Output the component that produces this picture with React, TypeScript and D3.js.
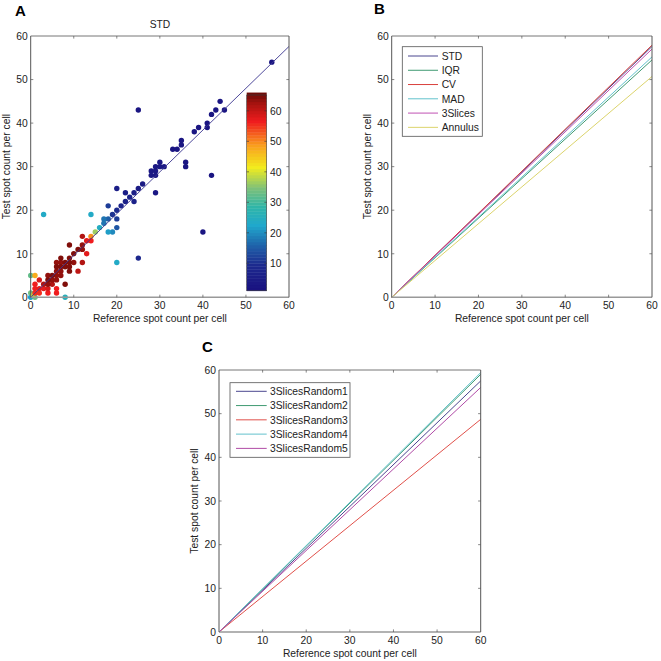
import * as d3 from "d3";
import { useRef, useEffect } from "react";

// Panel A: reference count, test count, colour value per cell
const refCounts = [
  56, 44, 43, 45, 42, 25, 41, 41, 39, 38, 35, 35, 33, 34, 36, 36, 30, 29, 30, 31, 28, 29, 28, 29, 42,
  26, 25, 20, 22, 24, 29, 23, 22, 24, 21, 18, 20, 19, 20, 17, 18, 17, 20, 18, 19, 40, 25, 20, 3, 14, 16, 15, 14,
  12, 13, 14, 12, 9, 11, 12, 10, 13, 7, 9, 6, 7, 8, 9, 10, 12,
  6, 7, 8, 9, 6, 7, 9, 11, 4, 5, 6, 7, 2, 4, 5, 6, 1, 3, 4, 5, 8, 1, 2, 3, 4, 6, 1, 2, 4, 6,
  0, 1, 0, 1, 0, 8, 0.5,
];
const testCounts = [
  54, 45, 43, 43, 42, 43, 40, 39, 39, 38, 36, 35, 34, 34, 31, 30, 31, 30, 30, 30, 29, 29, 28, 28, 28,
  26, 25, 25, 24, 24, 24, 23, 22, 22, 21, 21, 20, 19, 18, 18, 18, 17, 16, 15, 15, 15, 9, 8, 19, 19, 16, 15, 14,
  14, 13, 13, 12, 12, 11, 11, 10, 10, 9, 9, 8, 8, 8, 8, 8, 8,
  7, 7, 7, 7, 6, 6, 6, 6, 5, 5, 5, 5, 4, 4, 4, 4, 3, 3, 3, 3, 3, 2, 2, 2, 2, 2, 1, 1, 1, 1,
  5, 5, 1, 0, 0, 0, 0.5,
];
const cellValues = [
  2, 2, 2, 2, 2, 2, 2, 2, 2, 2, 2, 2, 2, 2, 2, 2, 3, 3, 3, 3, 3, 3, 3, 3, 2,
  4, 4, 5, 5, 5, 3, 6, 6, 6, 7, 11, 9, 10, 11, 17, 15, 17, 14, 21, 19, 2, 8, 23, 23, 23, 24, 36, 49,
  61, 57, 56, 63, 64, 64, 63, 64, 57, 64, 64, 63, 63, 64, 64, 63, 61,
  64, 64, 64, 64, 63, 63, 64, 60, 63, 64, 63, 63, 58, 64, 63, 63, 56, 61, 63, 61, 64, 56, 57, 57, 58, 56, 55, 55, 56, 56,
  32, 47, 33, 33, 21, 25, 38,
];

// Panel B and C: fitted line end values at x = 60
const methodNames = ["STD", "IQR", "CV", "MAD", "3Slices", "Annulus"];
const methodEnds = [57.6, 54.5, 57.9, 55.2, 57, 50.7];
const randomNames = ["3SlicesRandom1", "3SlicesRandom2", "3SlicesRandom3", "3SlicesRandom4", "3SlicesRandom5"];
const randomEnds = [57.5, 59, 48.7, 59.4, 56];
const lineColors = ["#4a468f", "#3f9a72", "#d9413c", "#62c2cc", "#c052b4", "#dcd46c"];
const randomColors = ["#4a468f", "#3f9a72", "#e0504a", "#62c2cc", "#b04aa6"];

const axisTicks = [0, 10, 20, 30, 40, 50, 60];
const colorTicks = [10, 20, 30, 40, 50, 60];
const colorStops = [1, 9, 15, 22, 28, 34, 41, 48, 56, 62, 65];
const colorHexes = ["#1a1280", "#1c2a8e", "#1f5fa8", "#20a8cc", "#2fb5a8", "#7cc07a", "#f2ec1e", "#f9a01c", "#f01c1e", "#a5130f", "#6e0c08"];

const FONT = "'Liberation Sans', Arial, sans-serif";

function drawFrame(g: any, x: any, y: any, xLabel: string, yLabel: string) {
  const [x0, x1] = x.range();
  const [y0, y1] = y.range();
  const tick = 2.6;

  g.append("line").attr("x1", x0).attr("x2", x1).attr("y1", y1).attr("y2", y1).attr("stroke", "#777");
  g.append("line").attr("x1", x0).attr("x2", x1).attr("y1", y0).attr("y2", y0).attr("stroke", "#999").attr("stroke-width", 1.4);
  g.append("line").attr("x1", x0).attr("x2", x0).attr("y1", y0).attr("y2", y1).attr("stroke", "#555");
  g.append("line").attr("x1", x1).attr("x2", x1).attr("y1", y0).attr("y2", y1).attr("stroke", "#555");

  axisTicks.forEach((t) => {
    if (t > 0 && t < 60) {
      g.append("line").attr("x1", x(t)).attr("x2", x(t)).attr("y1", y0).attr("y2", y0 - tick).attr("stroke", "#555").attr("stroke-width", 0.7);
      g.append("line").attr("x1", x(t)).attr("x2", x(t)).attr("y1", y1).attr("y2", y1 + tick).attr("stroke", "#555").attr("stroke-width", 0.7);
      g.append("line").attr("x1", x0).attr("x2", x0 + tick).attr("y1", y(t)).attr("y2", y(t)).attr("stroke", "#555").attr("stroke-width", 0.7);
      g.append("line").attr("x1", x1).attr("x2", x1 - tick).attr("y1", y(t)).attr("y2", y(t)).attr("stroke", "#555").attr("stroke-width", 0.7);
    }
    g.append("text").attr("x", x(t)).attr("y", y0 + 12).attr("text-anchor", "middle").text(t);
    g.append("text").attr("x", x0 - 3).attr("y", y(t) + 3.8).attr("text-anchor", "end").text(t);
  });

  g.append("text").attr("x", (x0 + x1) / 2).attr("y", y0 + 24.5).attr("text-anchor", "middle").text(xLabel);
  g.append("text")
    .attr("transform", `translate(${x0 - 21},${(y0 + y1) / 2}) rotate(-90)`)
    .attr("text-anchor", "middle")
    .text(yLabel);
}

function drawLegend(g: any, names: string[], colors: string[], box: { x: number; y: number; w: number; h: number }, lineX: number[], textX: number, firstY: number) {
  g.append("rect").attr("x", box.x).attr("y", box.y).attr("width", box.w).attr("height", box.h)
    .attr("fill", "#fff").attr("stroke", "#555").attr("stroke-width", 0.8);
  names.forEach((name, i) => {
    const ly = firstY + i * 14.27;
    g.append("line").attr("x1", lineX[0]).attr("x2", lineX[1]).attr("y1", ly).attr("y2", ly)
      .attr("stroke", colors[i]).attr("stroke-width", 1);
    g.append("text").attr("x", textX).attr("y", ly + 3.8).text(name);
  });
}

export default function App() {
  const svgRef = useRef<SVGSVGElement | null>(null);

  useEffect(() => {
    if (!svgRef.current) return;
    const svg = d3.select(svgRef.current);
    svg.selectAll("*").remove();
    svg.style("font", `10.3px ${FONT}`).style("fill", "#222");

    const colorScale = d3.scaleLinear<string>().domain(colorStops).range(colorHexes).clamp(true);

    // A
    const xA = d3.scaleLinear().domain([0, 60]).range([30.7, 289]);
    const yA = d3.scaleLinear().domain([0, 60]).range([297.3, 36]);
    const gA = svg.append("g");

    const dots = d3.range(refCounts.length).sort((a, b) => cellValues[a] - cellValues[b]);
    gA.append("g").selectAll("circle").data(dots).join("circle")
      .attr("cx", (i) => xA(refCounts[i]))
      .attr("cy", (i) => yA(testCounts[i]))
      .attr("r", 2.7)
      .attr("fill", (i) => colorScale(cellValues[i]));
    gA.append("line").attr("x1", xA(0)).attr("y1", yA(0)).attr("x2", xA(60)).attr("y2", yA(methodEnds[0]))
      .attr("stroke", "#3b3690").attr("stroke-width", 0.9);
    drawFrame(gA, xA, yA, "Reference spot count per cell", "Test spot count per cell");
    gA.append("text").attr("x", 160).attr("y", 28).attr("text-anchor", "middle").text("STD");

    // colour bar
    const yBar = d3.scaleLinear().domain([1, 65.2]).range([290.7, 95]);
    const levels = d3.range(1, 65.2, 1);
    gA.append("g").selectAll("rect").data(levels).join("rect")
      .attr("x", 246.7).attr("width", 20)
      .attr("y", (v) => yBar(v + 1))
      .attr("height", (v) => yBar(v) - yBar(v + 1) + 0.4)
      .attr("fill", (v) => colorScale(v));
    gA.append("rect").attr("x", 246.7).attr("y", 95).attr("width", 20).attr("height", 195.7)
      .attr("fill", "none").attr("stroke", "#444").attr("stroke-width", 0.6);
    colorTicks.forEach((t) => {
      gA.append("line").attr("x1", 246.7).attr("x2", 249).attr("y1", yBar(t)).attr("y2", yBar(t)).attr("stroke", "#333").attr("stroke-width", 0.6);
      gA.append("line").attr("x1", 264.4).attr("x2", 266.7).attr("y1", yBar(t)).attr("y2", yBar(t)).attr("stroke", "#333").attr("stroke-width", 0.6);
      gA.append("text").attr("x", 270).attr("y", yBar(t) + 3.8).text(t);
    });

    // B
    const xB = d3.scaleLinear().domain([0, 60]).range([391.7, 652]);
    const yB = d3.scaleLinear().domain([0, 60]).range([297.3, 36]);
    const gB = svg.append("g");
    methodEnds.forEach((end, i) => {
      gB.append("path")
        .datum([0, 60])
        .attr("d", d3.line<number>().x((d) => xB(d)).y((d) => yB((d / 60) * end)) as any)
        .attr("fill", "none")
        .attr("stroke", lineColors[i])
        .attr("stroke-width", 1);
    });
    drawFrame(gB, xB, yB, "Reference spot count per cell", "Test spot count per cell");
    drawLegend(gB, methodNames, lineColors, { x: 402.3, y: 46.7, w: 80, h: 89.6 }, [408, 438], 441.7, 56);

    // C
    const xC = d3.scaleLinear().domain([0, 60]).range([219, 480.7]);
    const yC = d3.scaleLinear().domain([0, 60]).range([632, 370]);
    const gC = svg.append("g");
    randomEnds.forEach((end, i) => {
      gC.append("path")
        .datum([0, 60])
        .attr("d", d3.line<number>().x((d) => xC(d)).y((d) => yC((d / 60) * end)) as any)
        .attr("fill", "none")
        .attr("stroke", randomColors[i])
        .attr("stroke-width", 1);
    });
    drawFrame(gC, xC, yC, "Reference spot count per cell", "Test spot count per cell");
    drawLegend(gC, randomNames, randomColors, { x: 230, y: 382.7, w: 120, h: 74.6 }, [236, 266.7], 270, 391.3);

    // panel letters
    const letters = [["A", 15, 16], ["B", 374, 14], ["C", 202, 352]];
    letters.forEach(([t, x, y]) => {
      svg.append("text").attr("x", x).attr("y", y).attr("font-size", 15).attr("font-weight", "bold").attr("fill", "#000").text(t as string);
    });
  }, []);

  return <svg ref={svgRef} width={661} height={661} style={{ position: "absolute", left: 0, top: 0, background: "#fff" }}></svg>;
}
